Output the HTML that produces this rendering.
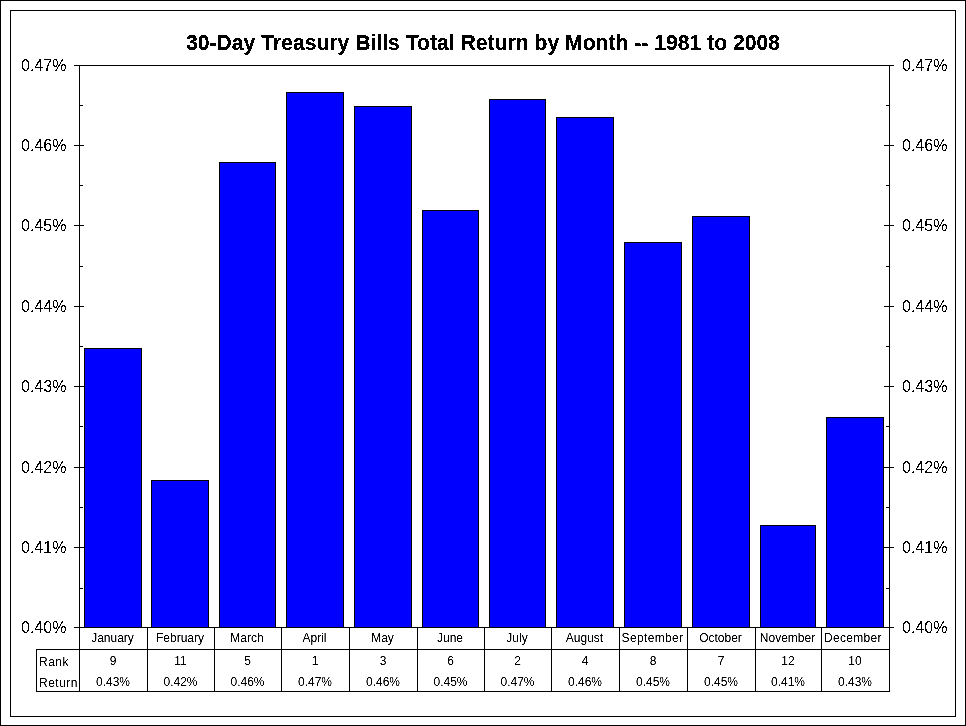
<!DOCTYPE html>
<html><head><meta charset="utf-8"><title>30-Day Treasury Bills Total Return by Month</title>
<style>
html,body{margin:0;padding:0;background:#fff;}
body{width:966px;height:726px;position:relative;overflow:hidden;font-family:"Liberation Sans",sans-serif;color:#000;}
.a{position:absolute;}
.k{position:absolute;background:#000;}
.bar{position:absolute;background:#0000ff;border:1px solid #000;box-sizing:border-box;}
.t{position:absolute;white-space:nowrap;}
.ax{font-size:16px;line-height:18px;height:18px;}
.tb{font-size:12px;line-height:14px;height:14px;text-align:center;}
.title{font-size:21.15px;font-weight:bold;line-height:24px;height:24px;left:0;width:966px;text-align:center;top:31px;}
.title{filter:url(#fa);}
.ax{filter:url(#fb);}
.tb{filter:url(#fd);}
</style></head><body>
<svg width="0" height="0" style="position:absolute;left:0;top:0"><defs>
<filter id="fa" x="0" y="0" width="100%" height="100%" color-interpolation-filters="sRGB"><feComponentTransfer><feFuncA type="discrete" tableValues="0 0 1 1 1"/></feComponentTransfer></filter>
<filter id="fb" x="0" y="0" width="100%" height="100%" color-interpolation-filters="sRGB"><feComponentTransfer><feFuncA type="discrete" tableValues="0 1"/></feComponentTransfer></filter>
<filter id="fd" x="0" y="0" width="100%" height="100%" color-interpolation-filters="sRGB"><feComponentTransfer><feFuncA type="table" tableValues="0 0 0.6 1 1"/></feComponentTransfer></filter>
</defs></svg>
<div class="a" style="left:0;top:0;width:966px;height:726px;border:1px solid #000;box-sizing:border-box;"></div>
<div class="a" style="left:10px;top:10px;width:946px;height:707px;border:1px solid #000;box-sizing:border-box;"></div>
<div class="t title">30-Day Treasury Bills Total Return by Month -- 1981 to 2008</div>

<div class="a" style="left:79px;top:65px;width:811px;height:563px;border:1px solid #000;box-sizing:border-box;"></div>
<div class="k" style="left:74px;top:65px;width:10px;height:1px;"></div>
<div class="k" style="left:884px;top:65px;width:10px;height:1px;"></div>
<div class="k" style="left:74px;top:145px;width:10px;height:1px;"></div>
<div class="k" style="left:884px;top:145px;width:10px;height:1px;"></div>
<div class="k" style="left:74px;top:225px;width:10px;height:1px;"></div>
<div class="k" style="left:884px;top:225px;width:10px;height:1px;"></div>
<div class="k" style="left:74px;top:306px;width:10px;height:1px;"></div>
<div class="k" style="left:884px;top:306px;width:10px;height:1px;"></div>
<div class="k" style="left:74px;top:386px;width:10px;height:1px;"></div>
<div class="k" style="left:884px;top:386px;width:10px;height:1px;"></div>
<div class="k" style="left:74px;top:467px;width:10px;height:1px;"></div>
<div class="k" style="left:884px;top:467px;width:10px;height:1px;"></div>
<div class="k" style="left:74px;top:547px;width:10px;height:1px;"></div>
<div class="k" style="left:884px;top:547px;width:10px;height:1px;"></div>
<div class="k" style="left:74px;top:627px;width:10px;height:1px;"></div>
<div class="k" style="left:884px;top:627px;width:10px;height:1px;"></div>
<div class="k" style="left:80px;top:105px;width:3px;height:1px;"></div>
<div class="k" style="left:886px;top:105px;width:3px;height:1px;"></div>
<div class="k" style="left:80px;top:185px;width:3px;height:1px;"></div>
<div class="k" style="left:886px;top:185px;width:3px;height:1px;"></div>
<div class="k" style="left:80px;top:266px;width:3px;height:1px;"></div>
<div class="k" style="left:886px;top:266px;width:3px;height:1px;"></div>
<div class="k" style="left:80px;top:346px;width:3px;height:1px;"></div>
<div class="k" style="left:886px;top:346px;width:3px;height:1px;"></div>
<div class="k" style="left:80px;top:426px;width:3px;height:1px;"></div>
<div class="k" style="left:886px;top:426px;width:3px;height:1px;"></div>
<div class="k" style="left:80px;top:507px;width:3px;height:1px;"></div>
<div class="k" style="left:886px;top:507px;width:3px;height:1px;"></div>
<div class="k" style="left:80px;top:588px;width:3px;height:1px;"></div>
<div class="k" style="left:886px;top:588px;width:3px;height:1px;"></div>
<div class="t ax" style="left:21px;top:57px;">0.47%</div>
<div class="t ax" style="left:902px;top:57px;">0.47%</div>
<div class="t ax" style="left:21px;top:137px;">0.46%</div>
<div class="t ax" style="left:902px;top:137px;">0.46%</div>
<div class="t ax" style="left:21px;top:217px;">0.45%</div>
<div class="t ax" style="left:902px;top:217px;">0.45%</div>
<div class="t ax" style="left:21px;top:298px;">0.44%</div>
<div class="t ax" style="left:902px;top:298px;">0.44%</div>
<div class="t ax" style="left:21px;top:378px;">0.43%</div>
<div class="t ax" style="left:902px;top:378px;">0.43%</div>
<div class="t ax" style="left:21px;top:459px;">0.42%</div>
<div class="t ax" style="left:902px;top:459px;">0.42%</div>
<div class="t ax" style="left:21px;top:539px;">0.41%</div>
<div class="t ax" style="left:902px;top:539px;">0.41%</div>
<div class="t ax" style="left:21px;top:619px;">0.40%</div>
<div class="t ax" style="left:902px;top:619px;">0.40%</div>
<div class="bar" style="left:84px;top:348px;width:58px;height:280px;"></div>
<div class="bar" style="left:151px;top:480px;width:58px;height:148px;"></div>
<div class="bar" style="left:219px;top:162px;width:57px;height:466px;"></div>
<div class="bar" style="left:286px;top:92px;width:58px;height:536px;"></div>
<div class="bar" style="left:354px;top:106px;width:58px;height:522px;"></div>
<div class="bar" style="left:422px;top:210px;width:57px;height:418px;"></div>
<div class="bar" style="left:489px;top:99px;width:57px;height:529px;"></div>
<div class="bar" style="left:556px;top:117px;width:58px;height:511px;"></div>
<div class="bar" style="left:624px;top:242px;width:58px;height:386px;"></div>
<div class="bar" style="left:692px;top:216px;width:58px;height:412px;"></div>
<div class="bar" style="left:760px;top:525px;width:56px;height:103px;"></div>
<div class="bar" style="left:826px;top:417px;width:58px;height:211px;"></div>
<div class="k" style="left:79px;top:627px;width:1px;height:65px;"></div>
<div class="k" style="left:147px;top:627px;width:1px;height:65px;"></div>
<div class="k" style="left:214px;top:627px;width:1px;height:65px;"></div>
<div class="k" style="left:281px;top:627px;width:1px;height:65px;"></div>
<div class="k" style="left:349px;top:627px;width:1px;height:65px;"></div>
<div class="k" style="left:417px;top:627px;width:1px;height:65px;"></div>
<div class="k" style="left:484px;top:627px;width:1px;height:65px;"></div>
<div class="k" style="left:551px;top:627px;width:1px;height:65px;"></div>
<div class="k" style="left:619px;top:627px;width:1px;height:65px;"></div>
<div class="k" style="left:687px;top:627px;width:1px;height:65px;"></div>
<div class="k" style="left:755px;top:627px;width:1px;height:65px;"></div>
<div class="k" style="left:821px;top:627px;width:1px;height:65px;"></div>
<div class="k" style="left:889px;top:627px;width:1px;height:65px;"></div>
<div class="k" style="left:36px;top:649px;width:1px;height:43px;"></div>
<div class="k" style="left:36px;top:649px;width:854px;height:1px;"></div>
<div class="k" style="left:36px;top:691px;width:854px;height:1px;"></div>
<div class="t tb" style="left:78.5px;width:68px;top:631px;">January</div>
<div class="t tb" style="left:79px;width:68px;top:654px;">9</div>
<div class="t tb" style="left:79px;width:68px;top:675px;">0.43%</div>
<div class="t tb" style="left:146.5px;width:67px;top:631px;">February</div>
<div class="t tb" style="left:147px;width:67px;top:654px;">11</div>
<div class="t tb" style="left:147px;width:67px;top:675px;">0.42%</div>
<div class="t tb" style="left:213.5px;width:67px;top:631px;">March</div>
<div class="t tb" style="left:214px;width:67px;top:654px;">5</div>
<div class="t tb" style="left:214px;width:67px;top:675px;">0.46%</div>
<div class="t tb" style="left:280.5px;width:68px;top:631px;">April</div>
<div class="t tb" style="left:281px;width:68px;top:654px;">1</div>
<div class="t tb" style="left:281px;width:68px;top:675px;">0.47%</div>
<div class="t tb" style="left:348.5px;width:68px;top:631px;">May</div>
<div class="t tb" style="left:349px;width:68px;top:654px;">3</div>
<div class="t tb" style="left:349px;width:68px;top:675px;">0.46%</div>
<div class="t tb" style="left:416.5px;width:67px;top:631px;">June</div>
<div class="t tb" style="left:417px;width:67px;top:654px;">6</div>
<div class="t tb" style="left:417px;width:67px;top:675px;">0.45%</div>
<div class="t tb" style="left:483.5px;width:67px;top:631px;">July</div>
<div class="t tb" style="left:484px;width:67px;top:654px;">2</div>
<div class="t tb" style="left:484px;width:67px;top:675px;">0.47%</div>
<div class="t tb" style="left:550.5px;width:68px;top:631px;">August</div>
<div class="t tb" style="left:551px;width:68px;top:654px;">4</div>
<div class="t tb" style="left:551px;width:68px;top:675px;">0.46%</div>
<div class="t tb" style="left:618.5px;width:68px;top:631px;letter-spacing:0.35px;">September</div>
<div class="t tb" style="left:619px;width:68px;top:654px;">8</div>
<div class="t tb" style="left:619px;width:68px;top:675px;">0.45%</div>
<div class="t tb" style="left:686.5px;width:68px;top:631px;">October</div>
<div class="t tb" style="left:687px;width:68px;top:654px;">7</div>
<div class="t tb" style="left:687px;width:68px;top:675px;">0.45%</div>
<div class="t tb" style="left:754.5px;width:66px;top:631px;">November</div>
<div class="t tb" style="left:755px;width:66px;top:654px;">12</div>
<div class="t tb" style="left:755px;width:66px;top:675px;">0.41%</div>
<div class="t tb" style="left:819px;width:68px;top:631px;letter-spacing:0.3px;">December</div>
<div class="t tb" style="left:821px;width:68px;top:654px;">10</div>
<div class="t tb" style="left:821px;width:68px;top:675px;">0.43%</div>
<div class="t tb" style="left:39px;top:655px;text-align:left;letter-spacing:0.5px;">Rank</div>
<div class="t tb" style="left:39px;top:676px;text-align:left;letter-spacing:0.5px;">Return</div>
</body></html>
